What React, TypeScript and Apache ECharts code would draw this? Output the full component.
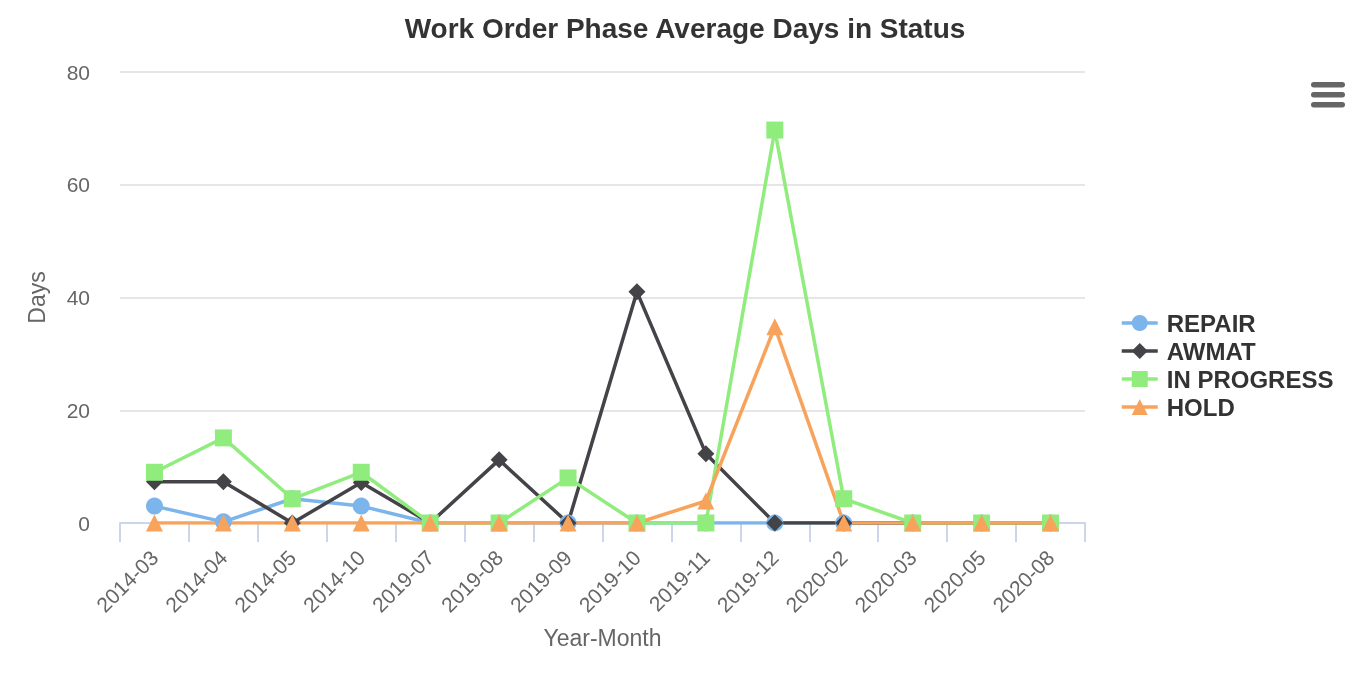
import React, { useEffect, useRef } from "react";
import * as echarts from "echarts";

const categories = [
  "2014-03", "2014-04", "2014-05", "2014-10", "2019-07", "2019-08", "2019-09",
  "2019-10", "2019-11", "2019-12", "2020-02", "2020-03", "2020-05", "2020-08",
];
const repair = [3.0, 0.2, 4.3, 3.0, 0, 0, 0, 0, 0, 0, 0, 0, 0, 0];
const awmat = [7.3, 7.3, 0, 7.2, 0, 11.2, 0, 41, 12.3, 0, 0, 0, 0, 0];
const inProgress = [9.0, 15.1, 4.3, 9.0, 0, 0, 8.0, 0, 0, 69.7, 4.3, 0, 0, 0];
const hold = [0, 0, 0, 0, 0, 0, 0, 0, 3.9, 34.8, 0, 0, 0, 0];
const yTicks = [0, 20, 40, 60, 80];

const FONT = "'Liberation Sans', Arial, Helvetica, sans-serif";

export default function App() {
  const ref = useRef<HTMLDivElement>(null);
  useEffect(() => {
    if (!ref.current) return;
    const chart = echarts.init(ref.current, undefined, { renderer: "svg" });
    const mk = (name: string, data: number[], color: string, symbol: string) => ({
      name,
      type: "line",
      data,
      symbol,
      symbolSize: 17,
      showAllSymbol: true,
      lineStyle: { color, width: 3.5 },
      itemStyle: { color },
    });
    chart.setOption({
      animation: false,
      textStyle: { fontFamily: FONT },
      title: {
        text: "Work Order Phase Average Days in Status",
        left: "center",
        top: 9,
        textStyle: { fontSize: 28, fontWeight: "bold", color: "#333333", fontFamily: FONT },
      },
      legend: {
        orient: "vertical",
        left: 1115,
        top: 306,
        itemWidth: 36,
        itemHeight: 20,
        itemGap: 4,
        lineStyle: { width: 3.5 },
        textStyle: { fontSize: 24, fontWeight: "bold", color: "#333333", lineHeight: 24, padding: [0, 0, 0, 4], fontFamily: FONT },
        data: ["REPAIR", "AWMAT", "IN PROGRESS", "HOLD"],
      },
      grid: { left: 120, right: 285, top: 72, bottom: 157, containLabel: false },
      xAxis: {
        type: "category",
        data: categories,
        boundaryGap: true,
        name: "Year-Month",
        nameLocation: "middle",
        nameGap: 103,
        nameTextStyle: { fontSize: 23, color: "#666666", fontFamily: FONT },
        axisLine: { lineStyle: { color: "#ccd6eb", width: 2 } },
        axisTick: { show: true, length: 19, lineStyle: { color: "#ccd6eb", width: 2 } },
        axisLabel: { rotate: 45, fontSize: 21, color: "#666666", margin: 31, interval: 0, fontFamily: FONT },
      },
      yAxis: {
        type: "value",
        min: yTicks[0],
        max: yTicks[yTicks.length - 1],
        interval: 20,
        name: "Days",
        nameLocation: "middle",
        nameGap: 72,
        nameTextStyle: { fontSize: 23, color: "#666666", fontFamily: FONT },
        axisLine: { show: false },
        axisTick: { show: false },
        splitLine: { lineStyle: { color: "#e6e6e6", width: 2 } },
        axisLabel: { fontSize: 21, color: "#666666", margin: 30, padding: [5, 0, 0, 0], fontFamily: FONT },
      },
      series: [
        mk("REPAIR", repair, "#7cb5ec", "circle"),
        mk("AWMAT", awmat, "#434348", "diamond"),
        mk("IN PROGRESS", inProgress, "#90ed7d", "rect"),
        mk("HOLD", hold, "#f7a35c", "triangle"),
      ],
      graphic: [
        { type: "rect", left: 1311, top: 82, shape: { width: 34, height: 5.5, r: 2.75 }, style: { fill: "#666666" } },
        { type: "rect", left: 1311, top: 92, shape: { width: 34, height: 5.5, r: 2.75 }, style: { fill: "#666666" } },
        { type: "rect", left: 1311, top: 102, shape: { width: 34, height: 5.5, r: 2.75 }, style: { fill: "#666666" } },
      ],
    });
    return () => chart.dispose();
  }, []);
  return <div ref={ref} style={{ position: "fixed", left: 0, top: 0, width: 1370, height: 680 }} />;
}
